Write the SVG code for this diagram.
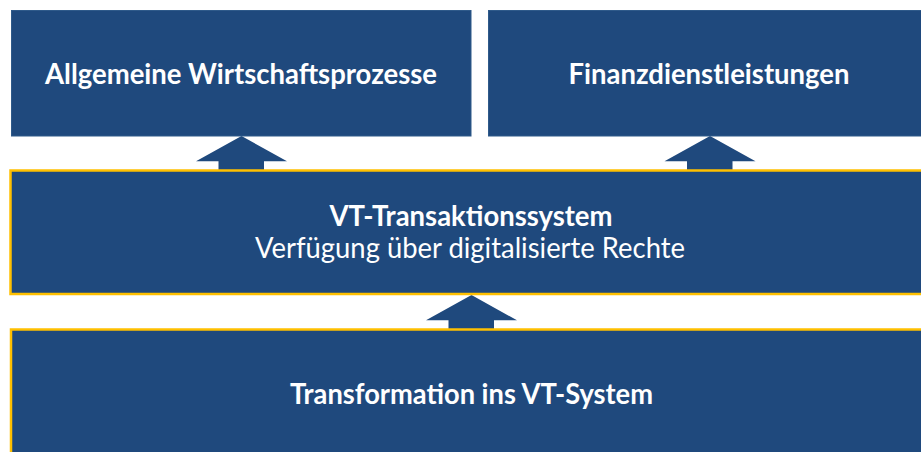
<svg xmlns="http://www.w3.org/2000/svg" xmlns:xlink="http://www.w3.org/1999/xlink" width="921" height="452" viewBox="0 0 921 452">
  <style>
    .box { fill: #1F497D; }
    .top { stroke: #2F5A8A; stroke-width: 1; }
    .framed { stroke: #FFC000; stroke-width: 2.5; }
    .arrow { fill: #1F497D; }
    .t { font-family: Lato, "Open Sans", "Liberation Sans", sans-serif; font-size: 28px; fill: #FFFFFF; text-anchor: middle; }
    .b { font-weight: bold; }
  </style>
  <defs>
    <path id="uparrow" d="M0,0 L45.5,25.3 L22.5,25.3 L22.5,34 L-23,34 L-23,25.3 L-45.5,25.3 Z"/>
  </defs>
  <rect width="921" height="452" fill="#FFFFFF"/>

  <g id="connectors">
    <use xlink:href="#uparrow" href="#uparrow" class="arrow" transform="translate(241.5,136)"/>
    <use xlink:href="#uparrow" href="#uparrow" class="arrow" transform="translate(710,136)"/>
    <use xlink:href="#uparrow" href="#uparrow" class="arrow" transform="translate(471.5,295)"/>
  </g>

  <g id="node-wirtschaft">
    <rect class="box top" x="11.5" y="10.5" width="459.5" height="125.5"/>
    <text class="t b" x="241" y="84" textLength="392" lengthAdjust="spacingAndGlyphs">Allgemeine Wirtschaftsprozesse</text>
  </g>

  <g id="node-finanz">
    <rect class="box top" x="488.5" y="10.5" width="445" height="125.5"/>
    <text class="t b" x="709" y="84" textLength="281" lengthAdjust="spacingAndGlyphs">Finanzdienstleistungen</text>
  </g>

  <g id="node-vt-transaktion">
    <rect class="box framed" x="10.5" y="170.5" width="925" height="123.5"/>
    <text class="t b" x="471" y="226" textLength="283" lengthAdjust="spacingAndGlyphs">VT-Transaktionssystem</text>
    <text class="t" x="470" y="258" textLength="430" lengthAdjust="spacingAndGlyphs">Verfügung über digitalisierte Rechte</text>
  </g>

  <g id="node-transformation">
    <rect class="box framed" x="11" y="329.5" width="925" height="140"/>
    <text class="t b" x="471.5" y="404" textLength="363" lengthAdjust="spacingAndGlyphs">Transformation ins VT-System</text>
  </g>
</svg>
